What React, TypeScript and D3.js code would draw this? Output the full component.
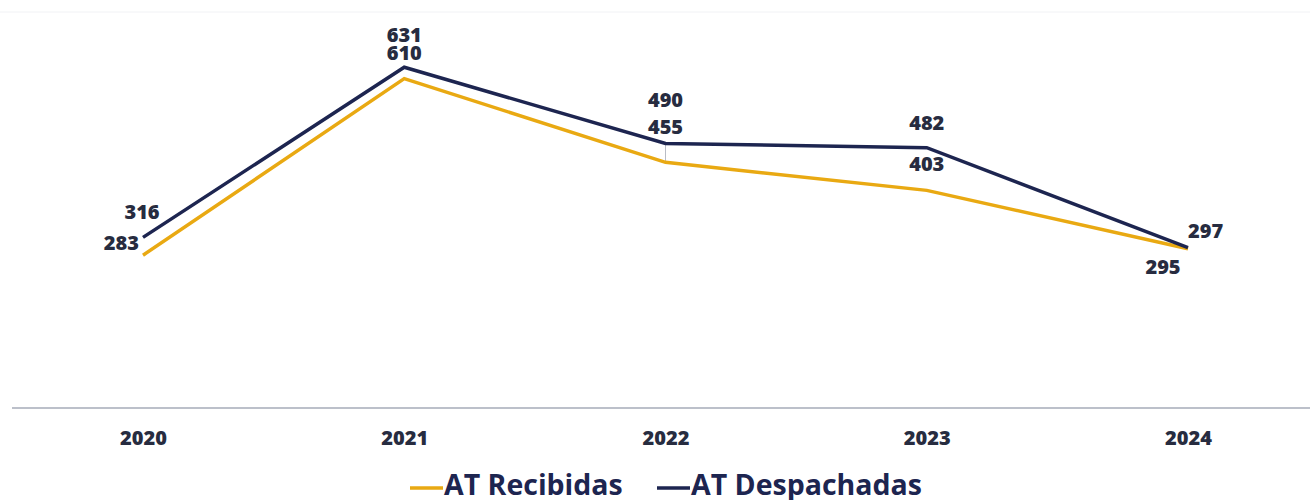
import React, { useEffect, useRef } from 'react';
import * as d3 from 'd3';

const years = ['2020', '2021', '2022', '2023', '2024'];
const recibidas = [283, 610, 455, 403, 295];
const despachadas = [316, 631, 490, 482, 297];

// label placement relative to each point: [dx, dy, anchor]
const recOffsets: [number, number, string][] = [
  [-4, -5, 'end'], [0, -19, 'middle'], [0, -28, 'middle'], [0, -19, 'middle'], [-25, 25, 'middle']
];
const despOffsets: [number, number, string][] = [
  [-1, -18, 'middle'], [0, -25, 'middle'], [0, -36, 'middle'], [0, -18, 'middle'], [0, -10, 'start']
];

const NAVY = '#1d2550';
const GOLD = '#e9a912';
const TEXT = '#272c40';

export default function App() {
  const svgRef = useRef<SVGSVGElement>(null);

  useEffect(() => {
    if (!svgRef.current) return;
    const width = 1310;
    const svg = d3.select(svgRef.current);
    svg.selectAll('*').remove();

    const font = "'Open Sans', 'Noto Sans', sans-serif";

    const x = d3.scalePoint<string>().domain(years).range([143, 1188]);
    const y = d3.scaleLinear().domain([0, 700]).range([408, 30]);

    // faint top rule
    svg.append('line')
      .attr('x1', 0).attr('x2', width)
      .attr('y1', 12).attr('y2', 12)
      .attr('stroke', '#f1f2f5').attr('stroke-width', 1);

    // baseline axis
    svg.append('line')
      .attr('x1', 12).attr('x2', width)
      .attr('y1', y(0)).attr('y2', y(0))
      .attr('stroke', '#bcc0ca').attr('stroke-width', 2);

    const axis = svg.append('g')
      .attr('transform', `translate(0,${y(0)})`)
      .call(d3.axisBottom(x).tickSize(0).tickPadding(23));
    axis.select('.domain').remove();
    axis.selectAll('text')
      .attr('font-family', font)
      .attr('font-weight', 800)
      .attr('font-size', 20)
      .attr('fill', TEXT);

    // leader at 2022
    svg.append('line')
      .attr('x1', x('2022')!).attr('x2', x('2022')!)
      .attr('y1', y(despachadas[2])).attr('y2', y(recibidas[2]))
      .attr('stroke', '#b8bcc6').attr('stroke-width', 1);

    const line = d3.line<number>()
      .x((_, i) => x(years[i])!)
      .y(d => y(d));

    svg.append('path')
      .datum(recibidas)
      .attr('d', line)
      .attr('fill', 'none')
      .attr('stroke', GOLD)
      .attr('stroke-width', 3.5);

    svg.append('path')
      .datum(despachadas)
      .attr('d', line)
      .attr('fill', 'none')
      .attr('stroke', NAVY)
      .attr('stroke-width', 3.5);

    const addLabels = (vals: number[], offs: [number, number, string][]) => {
      svg.append('g')
        .selectAll('text')
        .data(vals)
        .enter()
        .append('text')
        .attr('x', (_, i) => x(years[i])! + offs[i][0])
        .attr('y', (d, i) => y(d) + offs[i][1])
        .attr('text-anchor', (_, i) => offs[i][2])
        .attr('font-family', font)
        .attr('font-weight', 800)
        .attr('font-size', 20)
        .attr('fill', TEXT)
        .text(d => d);
    };
    addLabels(despachadas, despOffsets);
    addLabels(recibidas, recOffsets);

    // legend
    const legend = [
      { name: 'AT Recibidas', color: GOLD, x: 410 },
      { name: 'AT Despachadas', color: NAVY, x: 657 }
    ];
    const lg = svg.append('g');
    legend.forEach(l => {
      lg.append('line')
        .attr('x1', l.x).attr('x2', l.x + 33)
        .attr('y1', 488).attr('y2', 488)
        .attr('stroke', l.color).attr('stroke-width', 3.5);
      lg.append('text')
        .attr('x', l.x + 34)
        .attr('y', 495)
        .attr('font-family', font)
        .attr('font-weight', 700)
        .attr('font-size', 28.5)
        .attr('fill', NAVY)
        .text(l.name);
    });
  }, []);

  return (
    <div style={{ position: 'absolute', left: 0, top: 0, background: '#fff' }}>
      <svg ref={svgRef} width={1310} height={500} style={{ display: 'block' }} />
    </div>
  );
}
